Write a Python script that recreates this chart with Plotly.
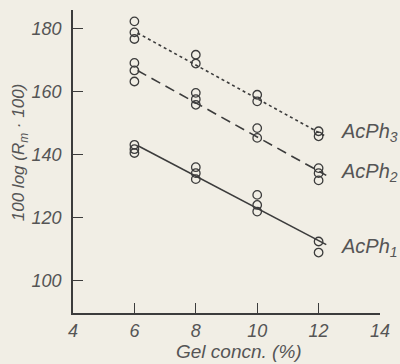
import plotly.graph_objects as go

# Data
gel_conc = [6, 8, 10, 12]

acph3_x = [6, 6, 6, 8, 8, 10, 10, 12, 12]
acph3_y = [182.4, 178.9, 176.8, 171.8, 169.0, 159.1, 157.0, 147.5, 145.9]

acph2_x = [6, 6, 6, 8, 8, 8, 10, 10, 12, 12, 12]
acph2_y = [169.2, 166.8, 163.3, 159.7, 157.7, 155.9, 148.5, 145.4, 135.8, 134.2, 131.9]

acph1_x = [6, 6, 6, 8, 8, 8, 10, 10, 10, 12, 12]
acph1_y = [143.2, 141.8, 140.6, 136.1, 134.2, 132.3, 127.3, 124.1, 122.0, 112.5, 109.0]

# Fitted lines (start, end)
fit_x = [6.1, 12.25]
fit3_y = [178.7, 145.8]
fit2_y = [166.8, 133.5]
fit1_y = [143.0, 111.5]

series_labels = ["AcPh<sub>3</sub>", "AcPh<sub>2</sub>", "AcPh<sub>1</sub>"]
label_y = [147.0, 134.3, 110.5]

x_ticks = [4, 6, 8, 10, 12, 14]
y_ticks = [100, 120, 140, 160, 180]

ink = "#3c3c3c"
txt = "#555555"
bg = "#f1eee5"
fam = "Liberation Sans, Arial, sans-serif"
font = dict(family=fam, size=18, color=txt, style="italic")

fig = go.Figure()

for fy, dash in [(fit3_y, "dot"), (fit2_y, "10px,6px"), (fit1_y, "solid")]:
    fig.add_trace(go.Scatter(x=fit_x, y=fy, mode="lines",
                             line=dict(color=ink, width=1.6, dash=dash),
                             showlegend=False, hoverinfo="skip"))

for xs, ys in [(acph3_x, acph3_y), (acph2_x, acph2_y), (acph1_x, acph1_y)]:
    fig.add_trace(go.Scatter(x=xs, y=ys, mode="markers",
                             marker=dict(symbol="circle-open", size=8.5,
                                         color=ink, line=dict(width=1.3, color=ink)),
                             showlegend=False))

for lab, ly in zip(series_labels, label_y):
    fig.add_annotation(x=12.66, y=ly, xref="x", yref="y", text=lab, showarrow=False,
                       xanchor="left", yanchor="middle",
                       font=dict(family=fam, size=20, color=txt, style="italic"))

fig.add_annotation(x=-0.17, y=0.53, xref="paper", yref="paper",
                   text="100 log (R<sub>m</sub> · 100)", textangle=-90, showarrow=False,
                   xanchor="center", yanchor="middle",
                   font=dict(family=fam, size=17, color=txt, style="italic"))
fig.add_annotation(x=0.54, y=-0.128, xref="paper", yref="paper",
                   text="Gel concn. (%)", showarrow=False,
                   xanchor="center", yanchor="middle",
                   font=dict(family=fam, size=19, color=txt, style="italic"))

fig.update_layout(
    width=400, height=364,
    margin=dict(l=73, r=14, t=10, b=51),
    paper_bgcolor=bg, plot_bgcolor=bg,
    font=font,
    xaxis=dict(range=[4, 14], tickvals=x_ticks, ticks="inside", ticklen=10,
               tickwidth=1.3, tickcolor=ink, showline=True, linecolor=ink, linewidth=1.5,
               showgrid=False, zeroline=False, ticklabelstandoff=1,
               tickfont=dict(family=fam, size=18, color=txt, style="italic")),
    yaxis=dict(range=[89.8, 186], tickvals=y_ticks, ticks="inside", ticklen=10,
               tickwidth=1.3, tickcolor=ink, showline=True, linecolor=ink, linewidth=1.5,
               showgrid=False, zeroline=False, ticklabelstandoff=6,
               tickfont=dict(family=fam, size=18, color=txt, style="italic")),
)

fig.write_html("out.html")
